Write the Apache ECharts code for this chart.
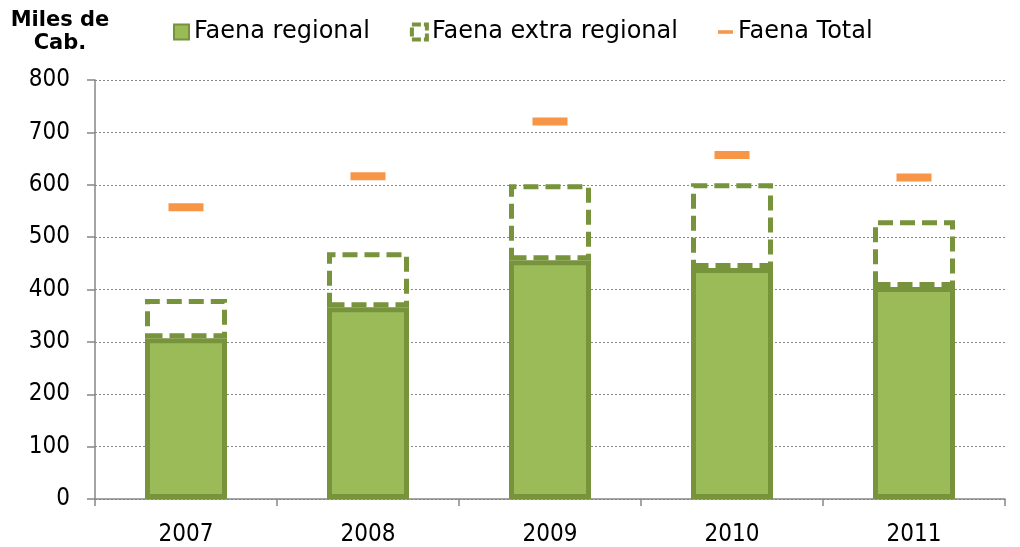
<!DOCTYPE html>
<html>
<head>
<meta charset="utf-8">
<script src="https://cdn.jsdelivr.net/npm/echarts@6/dist/echarts.min.js"></script>
<style>
  html, body { margin: 0; padding: 0; background: #fff; }
  #my_chart { width: 1020px; height: 547px; }
</style>
</head>
<body>
<div id="my_chart"></div>
<script>
  // datos (miles de cabezas)
  var years = ['2007', '2008', '2009', '2010', '2011'];
  var faenaRegional = [307, 366, 456, 441, 405];
  var faenaExtra = [75, 105, 145, 162, 127];
  var faenaTotal = [557, 616, 721, 657, 614];

  var green = '#9BBB59', darkGreen = '#77933C', orange = '#F79646';
  var font = 'DejaVu Sans';
  var numFont = '"DejaVu Sans Condensed", "DejaVu Sans"';

  var my_chart = echarts.init(document.getElementById('my_chart'));
  my_chart.setOption({
    animation: false,
    textStyle: { fontFamily: font },
    grid: { left: 95, right: 15, top: 80, bottom: 48 },
    legend: {
      left: 168, top: 15,
      itemGap: 40, itemWidth: 15, itemHeight: 15,
      textStyle: { fontSize: 24, color: '#000', padding: [0, 0, 0, 0] },
      data: [
        { name: 'Faena regional', icon: 'rect' },
        { name: 'Faena extra regional', icon: 'rect',
          itemStyle: { color: '#fff', borderColor: darkGreen, borderWidth: 4, borderType: [9, 3] } },
        { name: 'Faena Total', icon: 'path://M0,0 H17 V4 H0 Z' }
      ]
    },
    xAxis: {
      type: 'category',
      data: years,
      axisLine: { lineStyle: { color: '#868686', width: 1.5 } },
      axisTick: { show: true, length: 7, lineStyle: { color: '#868686', width: 1.5 } },
      axisLabel: { fontSize: 24, fontFamily: numFont, color: '#000', margin: 24 }
    },
    yAxis: {
      type: 'value',
      min: 0, max: 800, interval: 100,
      name: 'Miles de\nCab.',
      nameLocation: 'end',
      nameGap: 25,
      nameTextStyle: { fontSize: 21, fontWeight: 'bold', color: '#000', align: 'center', padding: [0, 0, 0, -70], lineHeight: 23 },
      axisLine: { show: true, lineStyle: { color: '#868686', width: 1.5 } },
      axisTick: { show: true, length: 8, lineStyle: { color: '#868686', width: 1.5 } },
      axisLabel: { fontSize: 24, fontFamily: numFont, color: '#000', margin: 25 },
      splitLine: { lineStyle: { color: '#888', type: [2, 2], width: 1 } }
    },
    series: [{
      name: 'Faena regional',
      type: 'bar',
      stack: 'faena',
      barWidth: 82,
      data: faenaRegional,
      itemStyle: { color: green, borderColor: darkGreen, borderWidth: 5 }
    }, {
      name: 'Faena extra regional',
      type: 'bar',
      stack: 'faena',
      barWidth: 82,
      data: faenaExtra,
      itemStyle: { color: 'rgba(255,255,255,0)', borderColor: darkGreen, borderWidth: 5, borderType: [15, 7] }
    }, {
      name: 'Faena Total',
      type: 'scatter',
      symbol: 'rect',
      symbolSize: [35, 8],
      data: faenaTotal,
      itemStyle: { color: orange, opacity: 1 },
      z: 5
    }]
  });
</script>
</body>
</html>
